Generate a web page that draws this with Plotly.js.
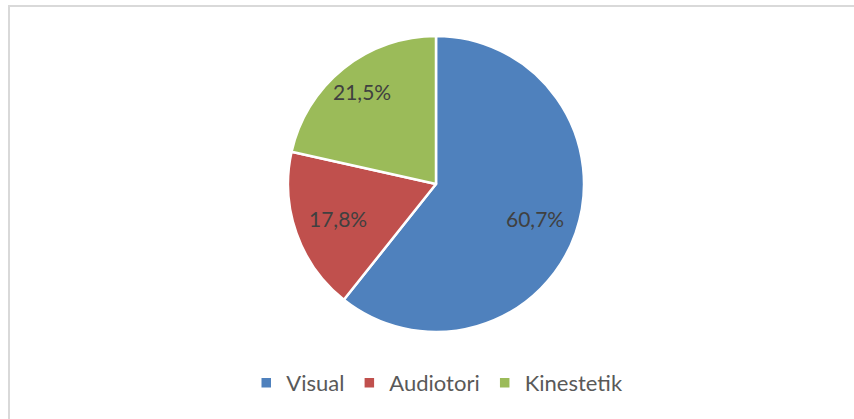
<!DOCTYPE html>
<html>
<head>
<meta charset="utf-8">
<script src="https://cdn.plot.ly/plotly-3.0.1.min.js"></script>
<style>
  html, body { margin: 0; padding: 0; background: #fff; }
  #wrap { position: relative; width: 854px; height: 419px; overflow: hidden; }
  #frame { position: absolute; left: 8px; top: 5px; width: 900px; height: 500px;
           border-top: 2px solid #d9d9d9; border-left: 2px solid #d9d9d9; box-sizing: border-box; pointer-events: none; }
  #chart { position: absolute; left: 0; top: 0; width: 854px; height: 419px; }
</style>
</head>
<body>
<div id="wrap">
  <div id="chart"></div>
  <div id="frame"></div>
</div>
<script>
const categories = ["Visual", "Audiotori", "Kinestetik"];
const values = [60.7, 17.8, 21.5];
const valueLabels = ["60,7%", "17,8%", "21,5%"];
const colors = ["#4f81bd", "#c0504d", "#9bbb59"];
// style: label distance from centre as a fraction of the radius
const labelRadius = [0.71, 0.70, 0.80];

const W = 854, H = 419;
const cx = 436, cy = 184, R = 148;
const FONT = "Lato, 'Open Sans', sans-serif";

const trace = {
  type: "pie",
  labels: categories,
  values: values,
  textinfo: "none",
  sort: false,
  direction: "clockwise",
  rotation: 0,
  marker: { colors: colors, line: { color: "#ffffff", width: 2.5 } },
  hoverinfo: "label+percent",
  domain: { x: [(cx - R) / W, (cx + R) / W], y: [1 - (cy + R) / H, 1 - (cy - R) / H] }
};

// label positions derived from slice mid-angles (clockwise from 12 o'clock)
const total = values.reduce((a, b) => a + b, 0);
let acc = 0;
const annotations = values.map((v, i) => {
  const mid = (acc + v / 2) / total * 2 * Math.PI;
  acc += v;
  const r = labelRadius[i] * R;
  const px = cx + r * Math.sin(mid);
  const py = cy - r * Math.cos(mid);
  return {
    xref: "paper", yref: "paper",
    x: px / W, y: 1 - py / H,
    xanchor: "center", yanchor: "middle",
    text: valueLabels[i], showarrow: false,
    font: { family: FONT, size: 21, color: "#404040" }
  };
});

const layout = {
  width: W, height: H,
  margin: { l: 0, r: 0, t: 0, b: 0 },
  paper_bgcolor: "#ffffff",
  showlegend: true,
  annotations: annotations,
  legend: {
    orientation: "h",
    x: 0.512, xanchor: "center",
    y: 1 - 383 / H, yanchor: "middle",
    font: { family: FONT, size: 22, color: "#595959" },
    itemwidth: 30,
    traceorder: "normal"
  }
};

Plotly.newPlot("chart", [trace], layout, { displayModeBar: false, staticPlot: true });
</script>
</body>
</html>
